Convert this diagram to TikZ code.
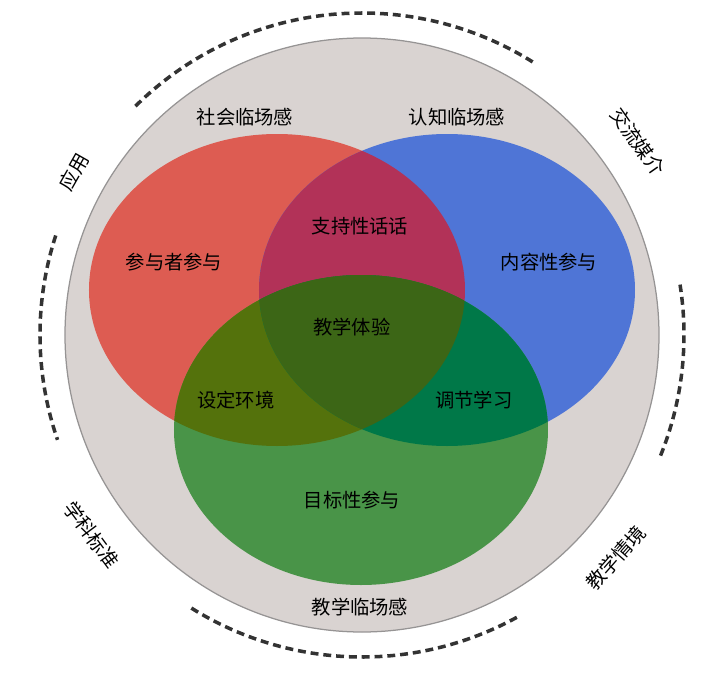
\documentclass[tikz,border=0pt]{standalone}
\usepackage{fontspec}
\newfontfamily\cjk{Noto Sans CJK SC}
\usetikzlibrary{calc}
\definecolor{ringgray}{RGB}{217,211,209}
\definecolor{ringline}{RGB}{150,148,148}
\definecolor{redset}{RGB}{221,92,82}
\definecolor{blueset}{RGB}{79,117,214}
\definecolor{greenset}{RGB}{73,148,72}
\definecolor{redblue}{RGB}{178,50,88}
\definecolor{redgreen}{RGB}{84,114,12}
\definecolor{bluegreen}{RGB}{0,120,72}
\definecolor{allthree}{RGB}{60,102,22}
\def\ringarc[#1](#2:#3:#4){\draw[#1] ({#4*cos(#2)},{#4*sin(#2)}) arc (#2:#3:#4);}
\def\redpath{(-85,45) ellipse (188 and 156)}
\def\bluepath{(85,45) ellipse (188 and 156)}
\def\greenpath{(-1,-95) ellipse (187 and 155)}
\tikzset{
  setlabel/.style={font=\cjk\fontsize{11pt}{13pt}\selectfont, inner sep=0pt},
  ringlabel/.style={font=\cjk\fontsize{11pt}{13pt}\selectfont, inner sep=0pt},
  dashring/.style={line width=2pt, color=black!80, dash pattern=on 4.5pt off 2.8pt}
}

\begin{document}
\begin{tikzpicture}[x=0.02cm, y=0.02cm]
			%%%%% START %%%%%
			\useasboundingbox (-362, -342) rectangle (362, 335);
			
			\draw[fill=ringgray, draw=ringline, line width=0.25mm] (0, 0) circle (297);
			
			\fill[redset] \redpath;
			\fill[blueset] \bluepath;
			\fill[greenset] \greenpath;
			
			\begin{scope}
				\clip \redpath;
				\fill[redblue] \bluepath;
				\fill[redgreen] \greenpath;
			\end{scope}
			\begin{scope}
				\clip \bluepath;
				\fill[bluegreen] \greenpath;
				\clip \redpath;
				\fill[allthree] \greenpath;
			\end{scope}
			
			\ringarc[dashring](58:135:322)
			\ringarc[dashring](162:199:322)
			\ringarc[dashring](238:299:322)
			\ringarc[dashring](-22:9:322)
			
			\node[ringlabel, rotate=60.5] (yingyong) at (150.5:331) {应用};
			\node[ringlabel, rotate=-55] (jiaoliu) at (35:337) {交流媒介};
			\node[ringlabel, rotate=-53.5] (xueke) at (216.5:336) {学科标准};
			\node[ringlabel, rotate=48.7] (qingjing) at (-41.3:338) {教学情境};
			
			\node[setlabel] (shehui) at (-117, 218) {社会临场感};
			\node[setlabel] (renzhi) at (95, 218) {认知临场感};
			\node[setlabel] (jiaoxue) at (-2, -272) {教学临场感};
			
			\node[setlabel] (canyuzhe) at (-188, 73) {参与者参与};
			\node[setlabel] (neirong) at (187, 73) {内容性参与};
			\node[setlabel] (mubiao) at (-10, -165) {目标性参与};
			
			\node[setlabel] (zhichi) at (-2, 109) {支持性话话};
			\node[setlabel] (sheding) at (-126, -65) {设定环境};
			\node[setlabel] (tiaojie) at (112, -65) {调节学习};
			\node[setlabel] (tiyan) at (-10, 8) {教学体验};
			
			%%%%% END %%%%%
		\end{tikzpicture}
\end{document}
